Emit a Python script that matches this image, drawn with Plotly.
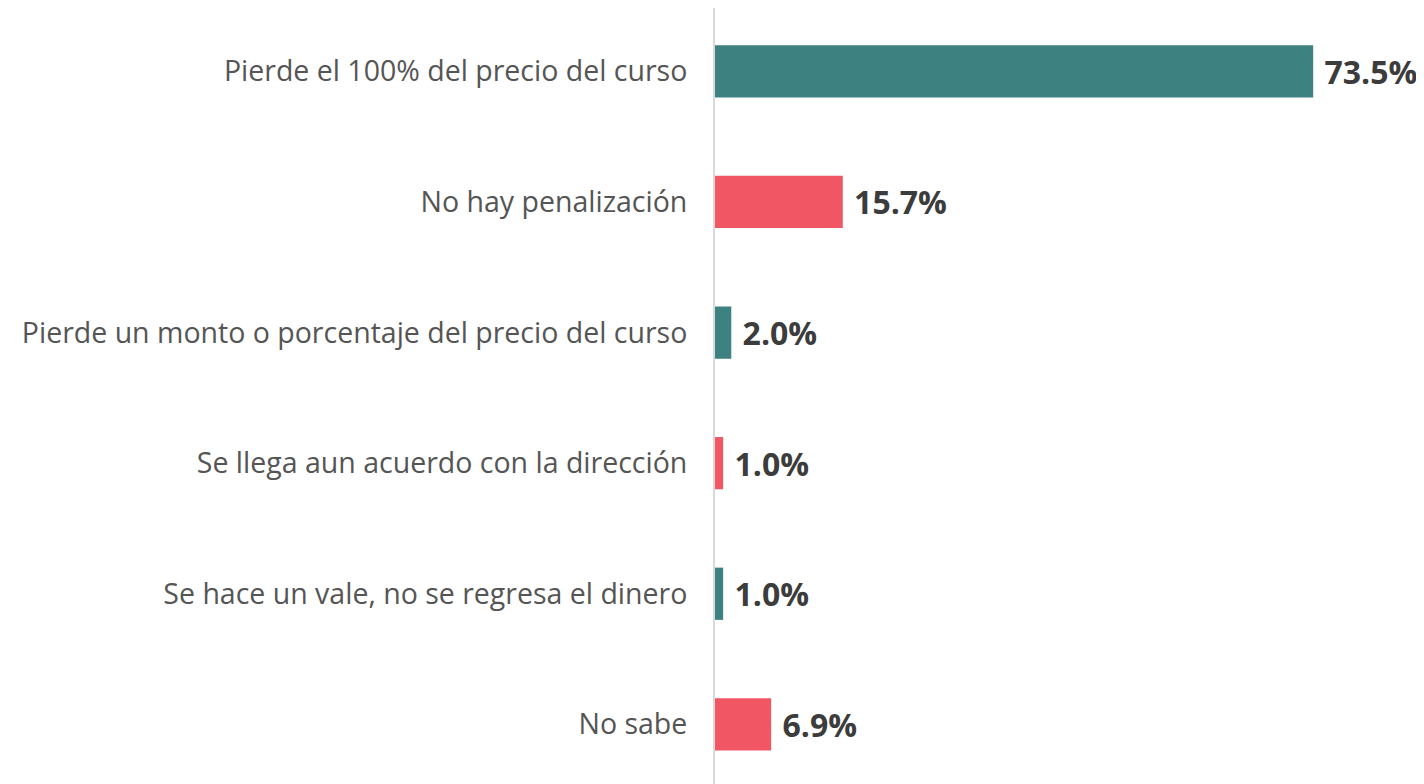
import plotly.graph_objects as go

categories = [
    "Pierde el 100% del precio del curso",
    "No hay penalización",
    "Pierde un monto o porcentaje del precio del curso",
    "Se llega aun acuerdo con la dirección",
    "Se hace un vale, no se regresa el dinero",
    "No sabe",
]
values = [73.5, 15.7, 2.0, 1.0, 1.0, 6.9]
bar_colors = ["#3D8280", "#F05664", "#3D8280", "#F05664", "#3D8280", "#F05664"]

fig = go.Figure()

fig.add_trace(
    go.Bar(
        x=values,
        y=categories,
        orientation="h",
        width=0.4,
        marker=dict(color=bar_colors, line=dict(width=0)),
        # leading space gives the gap between bar end and label
        text=[f" {v:.1f}%" for v in values],
        textposition="outside",
        textfont=dict(family="Open Sans", size=32, color="#3c3c3c", weight="bold"),
        cliponaxis=False,
        hoverinfo="skip",
    )
)

# page body has an 8px margin, so the margins are shifted to compensate
fig.update_layout(
    width=1424,
    height=784,
    margin=dict(l=707, r=0, t=0, b=0),
    paper_bgcolor="white",
    plot_bgcolor="white",
    showlegend=False,
    xaxis=dict(
        range=[0, 88.1],
        showgrid=False,
        zeroline=False,
        showticklabels=False,
        showline=False,
        fixedrange=True,
    ),
    yaxis=dict(
        type="category",
        range=[5.518, -0.485],
        showgrid=False,
        zeroline=False,
        showline=True,
        linecolor="#d9d9d9",
        linewidth=2,
        ticks="",
        ticklabelstandoff=20,
        tickfont=dict(family="Open Sans", size=28.5, color="#555555"),
    ),
)

fig.write_html("out.html")
